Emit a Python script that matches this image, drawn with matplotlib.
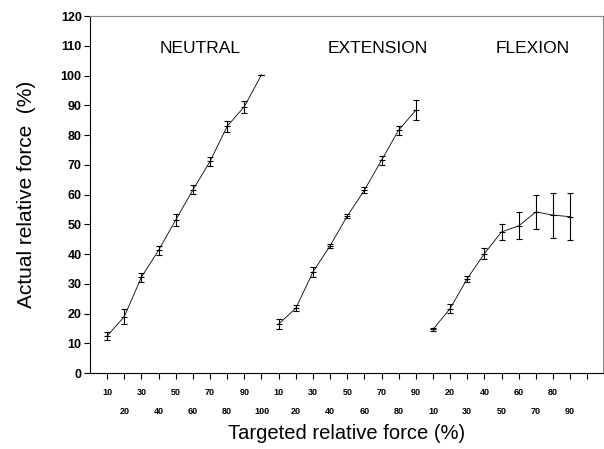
import numpy as np
import matplotlib
matplotlib.use("Agg")
import matplotlib.pyplot as plt
import matplotlib.transforms as mtransforms

plt.rcParams["font.family"] = ["Liberation Sans", "DejaVu Sans"]

# targeted force levels per wrist posture
neutral_x = [10, 20, 30, 40, 50, 60, 70, 80, 90, 100]
neutral_y = [12.5, 19.0, 32.3, 41.3, 51.5, 61.6, 71.2, 83.0, 89.6, 100.3]
neutral_err = [1.4, 2.5, 1.5, 1.5, 2.0, 1.5, 1.5, 1.8, 2.0, 0.0]

extension_x = [10, 20, 30, 40, 50, 60, 70, 80, 90]
extension_y = [16.5, 21.8, 34.0, 42.8, 52.8, 61.5, 71.6, 81.7, 88.4]
extension_err = [1.6, 1.0, 1.8, 0.7, 0.8, 1.0, 1.5, 1.5, 3.3]

flexion_x = [10, 20, 30, 40, 50, 60, 70, 80, 90]
flexion_y = [14.7, 21.7, 31.8, 40.2, 47.5, 49.5, 54.2, 53.1, 52.6]
flexion_err = [0.5, 1.5, 1.0, 2.0, 2.7, 4.5, 5.8, 7.6, 7.8]

groups = [("NEUTRAL", neutral_x, neutral_y, neutral_err),
          ("EXTENSION", extension_x, extension_y, extension_err),
          ("FLEXION", flexion_x, flexion_y, flexion_err)]
title_shift = [0.9, 1.8, 1.8]  # group names sit right of the group centre

fig = plt.figure(figsize=(6.04, 4.49), dpi=100)
ax = fig.add_axes([0.149, 0.169, 0.849, 0.795])

pos = 1
all_pos, all_lab = [], []
for (name, xs, ys, errs), dx in zip(groups, title_shift):
    p = np.arange(pos, pos + len(xs))
    ax.plot(p, ys, color="black", linewidth=0.6)
    ax.errorbar(p, ys, yerr=errs, fmt="none", ecolor="black",
                elinewidth=0.8, capsize=2.5, capthick=0.8)
    ax.plot(p, ys, linestyle="none", marker="_", color="black",
            markersize=4, markeredgewidth=0.8)
    ax.text(p.mean() + dx, 109, name, ha="center", va="center", fontsize=12.5)
    all_pos.extend(p)
    all_lab.extend(str(v) for v in xs)
    pos += len(xs)

ax.set_xlim(0, 29.9)
ax.set_ylim(0, 120)
ax.set_yticks(range(0, 121, 10))
ax.set_xticks(list(all_pos) + [pos])
ax.set_xticklabels([])
ax.tick_params(axis="both", direction="out", length=4, width=0.8)
ax.tick_params(axis="y", labelsize=9, pad=2)
for lbl in ax.get_yticklabels():
    lbl.set_fontweight("bold")

trans = mtransforms.blended_transform_factory(ax.transData, ax.transAxes)
for i, (p, lab) in enumerate(zip(all_pos, all_lab)):
    yy = -0.055 if i % 2 == 0 else -0.108
    ax.text(p, yy, lab, transform=trans, ha="center", va="center",
            fontsize=6.5, fontweight="bold")

for side in ["top", "right"]:
    ax.spines[side].set_color("#888888")
    ax.spines[side].set_linewidth(0.8)
ax.spines["left"].set_linewidth(0.8)
ax.spines["bottom"].set_linewidth(0.8)

ax.set_xlabel("Targeted relative force (%)", fontsize=14.5, labelpad=29)
ax.set_ylabel("Actual relative force  (%)", fontsize=15, labelpad=18)

fig.savefig("out.png", dpi=100)
